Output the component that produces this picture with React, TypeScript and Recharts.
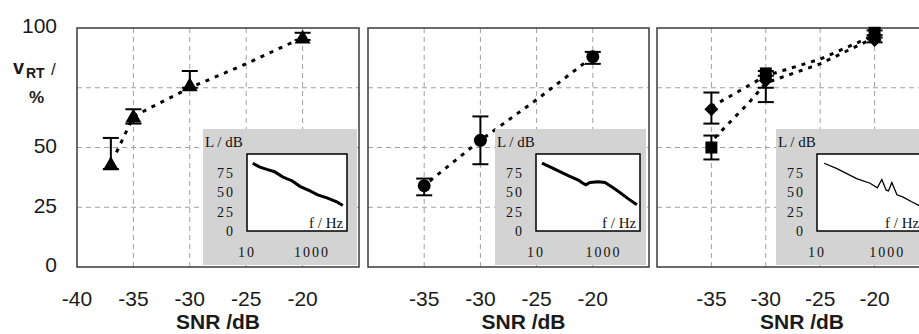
import React from 'react';
import {
  ScatterChart,
  Scatter,
  XAxis,
  YAxis,
  CartesianGrid,
  ErrorBar,
  ReferenceArea,
  LineChart,
  Line,
} from 'recharts';

// main panels: SNR / dB against v_RT / %
const snrTicksFirst = [-40, -35, -30, -25, -20];
const snrTicks = [-35, -30, -25, -20];
const vrtTicks = [0, 25, 50, 100]; // 75 is left to the axis title
const vrtGrid = [25, 50, 75];
const snrGrid = [-35, -30, -25, -20];

// panel 1 (triangles)
const triSnr = [-37, -35, -30, -20];
const triVrt = [43, 63, 76, 96];
const triErr = [[2, 11], [3, 3], [1, 6], [1, 2]];
const triFitSnr = [-36.5, -35, -30, -25, -20];
const triFitVrt = [48, 63, 75, 85, 96];

// panel 2 (circles)
const circSnr = [-35, -30, -20];
const circVrt = [34, 53, 88];
const circErr = [[4, 3], [10, 10], [3, 2]];
const circFitSnr = [-34.5, -30, -25, -20];
const circFitVrt = [36, 53, 70, 88];

// panel 3 (squares + diamonds)
const sqSnr = [-35, -30, -20];
const sqVrt = [50, 81, 98];
const sqErr = [[5, 5], [12, 1], [1, 1]];
const diaSnr = [-35, -30, -20];
const diaVrt = [66, 78, 95];
const diaErr = [[6, 7], [3, 2], [1, 1]];
const sqFitSnr = [-34.7, -33, -31.5, -30, -25, -20];
const sqFitVrt = [54, 62, 69, 77, 85, 96];
const diaFitSnr = [-35, -30, -25, -20];
const diaFitVrt = [67, 80, 87, 97];

// insets: noise spectra, L / dB against f / Hz
const specTicksX = [10, 1000];
const specTicksY = [0, 25, 50, 75];
const spec1F = [15, 25, 41, 70, 129, 250, 426, 870, 1500, 2900, 5800, 8900];
const spec1L = [88, 83, 80, 77, 70, 65, 58, 52, 47, 43, 38, 33];
const spec2F = [15, 30, 51, 100, 180, 245, 300, 395, 700, 1100, 1780, 3050, 5300, 9700];
const spec2L = [88, 82, 77, 71, 66, 62, 60, 63, 64, 63, 57, 50, 42, 34];
const spec3F = [16, 37, 135, 325, 525, 705, 940, 1090, 1360, 1900, 2870, 5000, 8200, 12000];
const spec3L = [88, 81, 68, 62, 56, 67, 53, 52, 63, 47, 44, 38, 33, 31];

const sans = '"Liberation Sans", Arial, sans-serif';
const serif = '"Liberation Serif", "Times New Roman", serif';
const H = 334;

function pts(x: number[], y: number[], e?: number[][]) {
  return x.map((v, i) => ({ snr: v, vrt: y[i], err: e ? e[i] : undefined }));
}

const Triangle = (p: any) => (
  <polygon points={`${p.cx},${p.cy - 8} ${p.cx - 8},${p.cy + 6} ${p.cx + 8},${p.cy + 6}`} fill="#000" />
);
const Dot = (p: any) => <circle cx={p.cx} cy={p.cy} r={6.5} fill="#000" />;
const Square = (p: any) => <rect x={p.cx - 6} y={p.cy - 6} width={12} height={12} fill="#000" />;
const Diamond = (p: any) => (
  <polygon points={`${p.cx},${p.cy - 7} ${p.cx + 7},${p.cy} ${p.cx},${p.cy + 7} ${p.cx - 7},${p.cy}`} fill="#000" />
);
const NoShape = () => <g />;

const fitLine = { stroke: '#000', strokeWidth: 3, strokeDasharray: '4 6' };

function Panel(props: {
  left: number;
  plotLeft: number;
  plotWidth: number;
  xTicks: number[];
  showY?: boolean;
  labelDx: number;
  children: React.ReactNode;
}) {
  const { left, plotLeft, plotWidth, xTicks, showY, labelDx, children } = props;
  return (
    <div style={{ position: 'absolute', left, top: 0 }}>
      <ScatterChart
        width={plotLeft + plotWidth + 10}
        height={H}
        margin={{ top: 28, right: 10, bottom: 5, left: showY ? 0 : plotLeft }}
      >
        <CartesianGrid stroke="#a0a0a0" strokeDasharray="5 4" horizontalValues={vrtGrid} verticalValues={snrGrid} />
        <XAxis
          type="number"
          dataKey="snr"
          domain={[-40, -15]}
          ticks={xTicks}
          interval={0}
          height={62}
          axisLine={false}
          tickLine={false}
          tickSize={0}
          tickMargin={24}
          allowDataOverflow
          tick={{ fontSize: 21, fontFamily: sans, fill: '#1a1a1a' }}
          label={{
            value: 'SNR /dB',
            position: 'insideBottom',
            offset: 0,
            dx: labelDx,
            fontSize: 21,
            fontWeight: 'bold',
            fontFamily: sans,
            fill: '#1a1a1a',
          }}
        />
        <YAxis
          type="number"
          dataKey="vrt"
          domain={[0, 100]}
          ticks={vrtTicks}
          interval={0}
          hide={!showY}
          width={plotLeft}
          axisLine={false}
          tickLine={false}
          tickSize={0}
          tickMargin={20}
          tick={{ fontSize: 21, fontFamily: sans, fill: '#1a1a1a', dy: -2 }}
        />
        <ReferenceArea x1={-40} x2={-15} y1={0} y2={100} fill="none" stroke="#3a3a3a" strokeWidth={1.5} ifOverflow="visible" />
        {children}
      </ScatterChart>
    </div>
  );
}

function Inset(props: {
  left: number;
  width: number;
  plotLeft: number;
  plotWidth: number;
  freq: number[];
  level: number[];
  sw: number;
  fLeft: number;
}) {
  const { left, width, plotLeft, plotWidth, freq, level, sw, fLeft } = props;
  const data = freq.map((f, i) => ({ f, L: level[i] }));
  const txt = { position: 'absolute' as const, fontFamily: serif, fontSize: 15, lineHeight: '15px', color: '#111', whiteSpace: 'nowrap' as const };
  return (
    <div style={{ position: 'absolute', left, top: 129, width, height: 136, background: '#d3d3d3', overflow: 'hidden' }}>
      <LineChart
        width={width}
        height={136}
        data={data}
        margin={{ top: 25, right: width - plotLeft - plotWidth, bottom: 0, left: 0 }}
      >
        <CartesianGrid fill="#fff" fillOpacity={1} horizontal={false} vertical={false} />
        <XAxis
          type="number"
          dataKey="f"
          scale="log"
          domain={[10, 12000]}
          ticks={specTicksX}
          interval={0}
          allowDataOverflow
          height={34}
          axisLine={false}
          tickLine={false}
          tickSize={0}
          tickMargin={16}
          tick={{ fontSize: 14, fontFamily: serif, fill: '#111', style: { letterSpacing: 2 } }}
        />
        <YAxis
          type="number"
          domain={[0, 100]}
          ticks={specTicksY}
          interval={0}
          width={plotLeft}
          axisLine={false}
          tickLine={false}
          tickSize={0}
          tickMargin={12}
          tick={{ fontSize: 14, fontFamily: serif, fill: '#111', style: { letterSpacing: 2 } }}
        />
        <ReferenceArea x1={10} x2={12000} y1={0} y2={100} fill="none" stroke="#000" strokeWidth={1.5} ifOverflow="visible" />
        <Line dataKey="L" type="linear" stroke="#000" strokeWidth={sw} dot={false} isAnimationActive={false} />
      </LineChart>
      <span style={{ ...txt, left: 2, top: 6 }}>L / dB</span>
      <span style={{ ...txt, left: fLeft, top: 87 }}>f / Hz</span>
    </div>
  );
}

export default function App() {
  return (
    <div style={{ position: 'absolute', left: 0, top: 0, width: 919, height: H, overflow: 'hidden', background: '#fff' }}>
      <Panel left={0} plotLeft={77} plotWidth={282} xTicks={snrTicksFirst} showY labelDx={0}>
        <Scatter data={pts(triFitSnr, triFitVrt)} line={fitLine} shape={NoShape} isAnimationActive={false} />
        <Scatter data={pts(triSnr, triVrt, triErr)} shape={Triangle} isAnimationActive={false}>
          <ErrorBar dataKey="err" direction="y" width={8} stroke="#000" strokeWidth={2} />
        </Scatter>
      </Panel>
      <Panel left={348} plotLeft={20} plotWidth={281} xTicks={snrTicks} labelDx={15}>
        <Scatter data={pts(circFitSnr, circFitVrt)} line={fitLine} shape={NoShape} isAnimationActive={false} />
        <Scatter data={pts(circSnr, circVrt, circErr)} shape={Dot} isAnimationActive={false}>
          <ErrorBar dataKey="err" direction="y" width={8} stroke="#000" strokeWidth={2} />
        </Scatter>
      </Panel>
      <Panel left={637} plotLeft={20} plotWidth={272} xTicks={snrTicks} labelDx={9}>
        <Scatter data={pts(sqFitSnr, sqFitVrt)} line={fitLine} shape={NoShape} isAnimationActive={false} />
        <Scatter data={pts(diaFitSnr, diaFitVrt)} line={fitLine} shape={NoShape} isAnimationActive={false} />
        <Scatter data={pts(sqSnr, sqVrt, sqErr)} shape={Square} isAnimationActive={false}>
          <ErrorBar dataKey="err" direction="y" width={8} stroke="#000" strokeWidth={2} />
        </Scatter>
        <Scatter data={pts(diaSnr, diaVrt, diaErr)} shape={Diamond} isAnimationActive={false}>
          <ErrorBar dataKey="err" direction="y" width={8} stroke="#000" strokeWidth={2} />
        </Scatter>
      </Panel>

      <Inset left={203} width={154} plotLeft={44} plotWidth={100} freq={spec1F} level={spec1L} sw={3} fLeft={106} />
      <Inset left={495} width={151} plotLeft={41} plotWidth={104} freq={spec2F} level={spec2L} sw={3} fLeft={107} />
      <Inset left={776} width={150} plotLeft={41} plotWidth={108} freq={spec3F} level={spec3L} sw={1.3} fLeft={109} />

      <div style={{ position: 'absolute', left: 13, top: 57, fontFamily: sans, fontWeight: 'bold', fontSize: 20, lineHeight: '20px', color: '#1a1a1a' }}>v</div>
      <div style={{ position: 'absolute', left: 26, top: 66, fontFamily: sans, fontWeight: 'bold', fontSize: 14, lineHeight: '14px', color: '#1a1a1a' }}>RT</div>
      <div style={{ position: 'absolute', left: 51, top: 61, fontFamily: sans, fontSize: 17, lineHeight: '17px', color: '#1a1a1a' }}>/</div>
      <div style={{ position: 'absolute', left: 29, top: 89, fontFamily: sans, fontWeight: 'bold', fontSize: 17, lineHeight: '17px', color: '#1a1a1a' }}>%</div>
    </div>
  );
}
